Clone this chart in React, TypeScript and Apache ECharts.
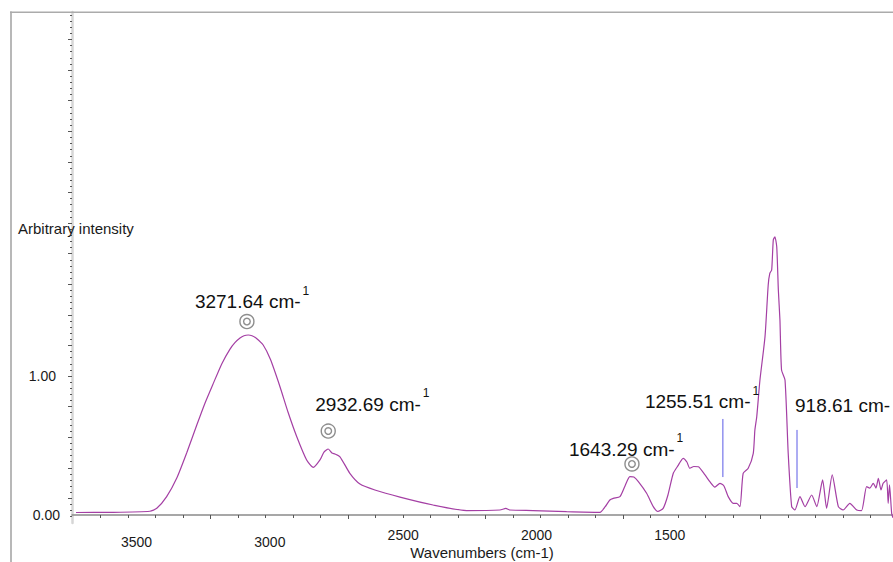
import React, { useEffect, useRef } from "react";
import * as echarts from "echarts";

// Spectrum (x on the plotted wavenumber axis, y in arbitrary intensity)
const wavenumbers = [
  3727, 3600, 3450, 3424, 3387, 3349, 3312, 3274, 3243, 3212,
  3180, 3150, 3131, 3112, 3097, 3081, 3067, 3052, 3025, 2998,
  2962, 2932, 2899, 2862, 2837, 2812, 2797, 2781, 2767, 2756,
  2737, 2700, 2662, 2606, 2512, 2388, 2262, 2137, 2115, 2100,
  2013, 1887, 1762, 1743, 1725, 1712, 1687, 1668, 1650, 1635,
  1618, 1587, 1562, 1545, 1525, 1507, 1487, 1470, 1450, 1436,
  1425, 1410, 1393, 1368, 1350, 1331, 1312, 1297, 1281, 1262,
  1249, 1237, 1225, 1206, 1187, 1181, 1174, 1162, 1143, 1131,
  1125, 1118, 1112, 1106, 1099, 1093, 1087, 1081, 1068, 1056,
  1043, 1031, 1012, 993, 968, 949, 927, 912, 891, 868,
  850, 825, 799, 781, 762, 750, 737, 727, 718, 708,
  700, 687, 681, 676, 668, 663,
];
const intensity = [
  0.018, 0.019, 0.027, 0.048, 0.132, 0.266, 0.446, 0.647, 0.806, 0.947,
  1.089, 1.192, 1.24, 1.274, 1.29, 1.295, 1.29, 1.274, 1.223, 1.12,
  0.923, 0.741, 0.563, 0.396, 0.343, 0.396, 0.453, 0.475, 0.446, 0.439,
  0.419, 0.3, 0.223, 0.18, 0.129, 0.072, 0.032, 0.036, 0.047, 0.036,
  0.032, 0.024, 0.019, 0.058, 0.108, 0.12, 0.132, 0.209, 0.276, 0.273,
  0.24, 0.156, 0.06, 0.025, 0.048, 0.144, 0.3, 0.353, 0.408, 0.381,
  0.336, 0.349, 0.347, 0.288, 0.24, 0.201, 0.228, 0.209, 0.132, 0.084,
  0.084, 0.06, 0.3, 0.336, 0.444, 0.612, 0.707, 0.971, 1.283, 1.655,
  1.739, 1.763, 1.978, 2.002, 1.93, 1.619, 1.403, 1.043, 0.971, 0.444,
  0.06, 0.036, 0.132, 0.06, 0.144, 0.06, 0.252, 0.048, 0.288, 0.06,
  0.036, 0.084, 0.036, 0.031, 0.204, 0.194, 0.228, 0.194, 0.264, 0.18,
  0.228, 0.252, 0.084, 0.216, 0.012, -0.02,
];

const xTickLabels = [3500, 3000, 2500, 2000, 1500];
const yTickLabels = [0, 1];
const xAxisTitle = "Wavenumbers (cm-1)";
const yAxisTitle = "Arbitrary intensity";

// Peak annotations
const peakLabels = ["3271.64 cm-", "2932.69 cm-", "1643.29 cm-", "1255.51 cm-", "918.61 cm-"];
const peakSup = ["1", "1", "1", "1", ""];
const peakKind = ["circle", "circle", "circle", "line", "line"];
const peakX = [3086, 2781, 1642, 1301, 1023];
const peakTop = [1.392, 0.604, 0.367, 0.691, 0.612];
const peakBottom = [0, 0, 0, 0.273, 0.194];

const X_MIN = 663;
const X_MAX = 3742;
const Y_MIN = -0.0576;
const Y_MAX = 3.619;

const FONT = '"Liberation Sans", Arial, Helvetica, sans-serif';

function range(start: number, step: number, lo: number, hi: number) {
  const out: number[] = [];
  for (let k = -200; k <= 200; k++) {
    const v = start + step * k;
    if (v >= lo && v <= hi) out.push(v);
  }
  return out;
}

const labelOffsets: number[][] = [
  [-52, -20],
  [-13, -27],
  [-63, -14.5],
  [-78, -17],
  [-2, -24],
];

function measure(txt: string, size: number) {
  const c = document.createElement("canvas").getContext("2d");
  if (!c) return txt.length * size * 0.55;
  c.font = `${size}px ${FONT}`;
  return c.measureText(txt).width;
}

export default function App() {
  const ref = useRef<HTMLDivElement>(null);
  useEffect(() => {
    if (!ref.current) return;
    const chart = echarts.init(ref.current, undefined, { renderer: "svg" });
    const majorX = range(3221.9, -515.6, 700, 3700);
    const minorX = range(3221.9, -103.12, X_MIN + 5, X_MAX - 5);
    const majorY = range(1, 0.2201, Y_MIN + 0.01, Y_MAX);
    const minorY = range(1, 0.04402, Y_MIN + 0.01, Y_MAX);
    const data = wavenumbers.map((w, i) => [w, intensity[i]]);

    chart.setOption({
      animation: false,
      backgroundColor: "#ffffff",
      grid: { left: 72, right: 0, top: 12, bottom: 39, containLabel: false, outerBoundsMode: "none" },
      xAxis: [
        {
          type: "value",
          min: X_MIN,
          max: X_MAX,
          inverse: true,
          position: "bottom",
          axisLine: { show: true, lineStyle: { color: "#8a8a8a", width: 1.5 } },
          axisTick: { show: true, customValues: majorX, length: 4, lineStyle: { color: "#555", width: 1 } },
          axisLabel: {
            customValues: xTickLabels,
            margin: 5,
            color: "#1a1a1a",
            fontSize: 14,
            fontFamily: FONT,
            formatter: (v: number) => (v >= 2750 ? `{lo|${v}}` : `{hi|${v}}`),
            rich: {
              lo: { fontSize: 14, fontFamily: FONT, color: "#1a1a1a", padding: [7, 0, 0, 0] },
              hi: { fontSize: 14, fontFamily: FONT, color: "#1a1a1a" },
            },
          },
          splitLine: { show: false },
        },
        {
          type: "value",
          min: X_MIN,
          max: X_MAX,
          inverse: true,
          position: "bottom",
          axisLine: { show: false },
          axisTick: { show: true, customValues: minorX, length: 3, lineStyle: { color: "#555", width: 1 } },
          axisLabel: { show: false },
          splitLine: { show: false },
        },
      ],
      yAxis: [
        {
          type: "value",
          min: Y_MIN,
          max: Y_MAX,
          position: "left",
          axisLine: { show: true, lineStyle: { color: "#d6d6d6", width: 2.5 } },
          axisTick: { show: true, customValues: majorY, length: 4, lineStyle: { color: "#555", width: 1 } },
          axisLabel: {
            customValues: yTickLabels,
            margin: 12,
            color: "#1a1a1a",
            fontSize: 14,
            fontFamily: FONT,
            formatter: (v: number) => (v >= 0.5 ? `{a|${v.toFixed(2)}}` : `{b|${v.toFixed(2)}}`),
            rich: {
              a: { fontSize: 14, fontFamily: FONT, color: "#1a1a1a", padding: [0, 4, 0, 0] },
              b: { fontSize: 14, fontFamily: FONT, color: "#1a1a1a" },
            },
          },
          splitLine: { show: false },
        },
        {
          type: "value",
          min: Y_MIN,
          max: Y_MAX,
          position: "left",
          axisLine: { show: false },
          axisTick: { show: true, customValues: minorY, length: 2, lineStyle: { color: "#555", width: 1 } },
          axisLabel: { show: false },
          splitLine: { show: false },
        },
      ],
      series: [
        {
          type: "line",
          xAxisIndex: 0,
          yAxisIndex: 0,
          data,
          showSymbol: false,
          smooth: 0.2,
          lineStyle: { color: "#a43fa4", width: 1.2 },
          itemStyle: { color: "#a43fa4" },
          silent: true,
        },
      ],
    });

    const els: any[] = [
      { type: "line", shape: { x1: 11, y1: 11.5, x2: 11, y2: 562 }, style: { stroke: "#b8b8b8", lineWidth: 2 }, z: 10 },
      { type: "line", shape: { x1: 10, y1: 12.3, x2: 893, y2: 12.3 }, style: { stroke: "#ababab", lineWidth: 1.5 }, z: 10 },
      {
        type: "text",
        x: 18,
        y: 228,
        z: 20,
        style: { text: yAxisTitle, fontSize: 15, fontFamily: FONT, fill: "#1a1a1a", textAlign: "left", textVerticalAlign: "middle", align: "left", verticalAlign: "middle" },
      },
      {
        type: "text",
        x: 482,
        y: 552,
        z: 20,
        style: { text: xAxisTitle, fontSize: 15, fontFamily: FONT, fill: "#1a1a1a", textAlign: "center", textVerticalAlign: "middle", align: "center", verticalAlign: "middle" },
      },
    ];

    peakLabels.forEach((lab, i) => {
      const [px, py] = chart.convertToPixel({ xAxisIndex: 0, yAxisIndex: 0 }, [peakX[i], peakTop[i]]) as number[];
      if (peakKind[i] === "circle") {
        els.push({ type: "circle", shape: { cx: px, cy: py, r: 7 }, style: { fill: "none", stroke: "#8e8e8e", lineWidth: 1.4 }, z: 20 });
        els.push({ type: "circle", shape: { cx: px, cy: py, r: 3.3 }, style: { fill: "none", stroke: "#8e8e8e", lineWidth: 1.4 }, z: 20 });
      } else {
        const [, pyb] = chart.convertToPixel({ xAxisIndex: 0, yAxisIndex: 0 }, [peakX[i], peakBottom[i]]) as number[];
        els.push({ type: "line", shape: { x1: px, y1: py, x2: px, y2: pyb }, style: { stroke: "#5a5ae6", lineWidth: 1 }, z: 20 });
      }
      const tx = px + labelOffsets[i][0];
      const ty = py + labelOffsets[i][1];
      els.push({
        type: "text",
        x: tx,
        y: ty,
        z: 20,
        style: { text: lab, fontSize: 19, fontFamily: FONT, fill: "#111", textAlign: "left", textVerticalAlign: "middle", align: "left", verticalAlign: "middle" },
      });
      if (peakSup[i]) {
        const w = measure(lab, 19);
        els.push({
          type: "text",
          x: tx + w + 2,
          y: ty - 17,
          z: 20,
          style: { text: peakSup[i], fontSize: 12, fontFamily: FONT, fill: "#111", textAlign: "left", textVerticalAlign: "top", align: "left", verticalAlign: "top" },
        });
      }
    });

    chart.setOption({ graphic: { elements: els } });

    return () => chart.dispose();
  }, []);

  return (
    <div
      ref={ref}
      style={{ position: "fixed", left: 0, top: 0, width: 893, height: 562, background: "#fff" }}
    />
  );
}
